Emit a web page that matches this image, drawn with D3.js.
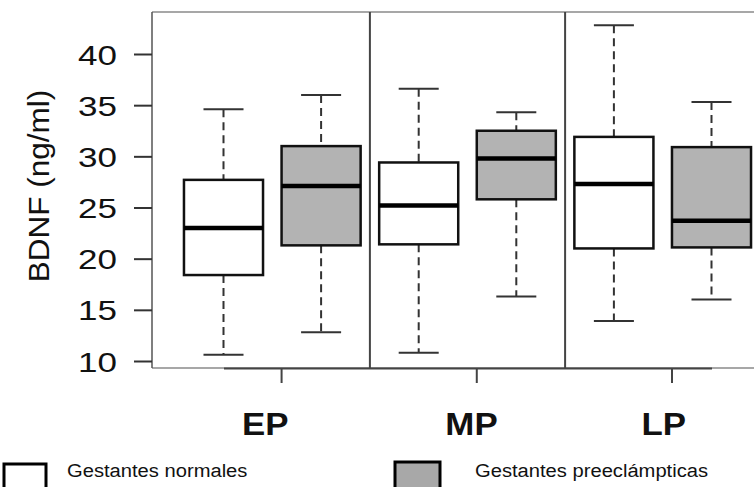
<!DOCTYPE html>
<html>
<head>
<meta charset="utf-8">
<script src="https://cdn.jsdelivr.net/npm/d3@7"></script>
<style>
	body { margin: 0; background: #fff; }
	text { font-family: "Liberation Sans", Arial, sans-serif; fill: #111; }
</style>
</head>
<body>
<script>
// categories
var groups = ["EP", "MP", "LP"];
var series = ["Gestantes normales", "Gestantes preeclámpticas"];

// box stats, order: EP normal, EP pre, MP normal, MP pre, LP normal, LP pre
var lowerWhisker = [10.6, 12.8, 10.8, 16.3, 13.9, 16.0];
var q1 = [18.4, 21.3, 21.4, 25.8, 21.0, 21.1];
var median = [23.0, 27.1, 25.2, 29.8, 27.3, 23.7];
var q3 = [27.7, 31.0, 29.4, 32.5, 31.9, 30.9];
var upperWhisker = [34.6, 36.0, 36.6, 34.3, 42.8, 35.3];

var yTicks = [10, 15, 20, 25, 30, 35, 40];

window.onload = function(){
	var w = 754, h = 487;
	var fills = ["#ffffff", "#b3b3b3"];

	var svg = d3.select("body")
		.append("svg")
		.attr("width", w)
		.attr("height", h)
		.attr("class", "container");

	var boxes = q1.map(function(d, i){
		return {
			pos: i + 1,
			s: i % 2,
			lo: lowerWhisker[i],
			q1: q1[i],
			med: median[i],
			q3: q3[i],
			hi: upperWhisker[i]
		};
	});

	var x = d3.scaleLinear()
		.domain([1, 6])
		.range([223.5, 711.5]);

	var y = d3.scaleLinear()
		.domain([10, 40])
		.range([361, 54]);

	var left = 152, top = 12, bottom = 368;
	var boxW = x(1.81) - x(1);
	var capW = x(1.41) - x(1);

	//frame
	svg.append("line")
		.attr("x1", left).attr("x2", w)
		.attr("y1", top).attr("y2", top)
		.style("stroke", "#8a8a8a").style("stroke-width", 1.5);
	svg.append("line")
		.attr("x1", left).attr("x2", w)
		.attr("y1", bottom).attr("y2", bottom)
		.style("stroke", "#8a8a8a").style("stroke-width", 1.5);
	svg.append("line")
		.attr("x1", left).attr("x2", left)
		.attr("y1", top).attr("y2", bottom)
		.style("stroke", "#555").style("stroke-width", 1.5);

	//panel separators, between the pairs
	[2.5, 4.5].forEach(function(v){
		svg.append("line")
			.attr("class", "separator")
			.attr("x1", x(v)).attr("x2", x(v))
			.attr("y1", top).attr("y2", bottom)
			.style("stroke", "#444").style("stroke-width", 2);
	});

	//y axis
	var yAxis = d3.axisLeft(y)
		.tickValues(yTicks)
		.tickSize(18)
		.tickPadding(17);

	var yg = svg.append("g")
		.attr("class", "axis")
		.attr("transform", "translate(" + left + ",0)")
		.call(yAxis);
	yg.select(".domain").remove();
	yg.selectAll(".tick line").style("stroke", "#333").style("stroke-width", 2);
	yg.selectAll(".tick text")
		.style("font-family", "Liberation Sans, Arial, sans-serif")
		.style("font-size", "28px")
		.attr("dy", "0.36em")
		.style("fill", "#111");

	//x axis (group ticks)
	var xAxis = d3.axisBottom(x)
		.tickValues(groups.map(function(d, i){ return i * 2 + 1.59; }))
		.tickFormat("")
		.tickSizeInner(15)
		.tickSizeOuter(0);

	var xg = svg.append("g")
		.attr("class", "axis")
		.attr("transform", "translate(0," + bottom + ")")
		.call(xAxis);
	xg.select(".domain").style("stroke", "#444").style("stroke-width", 2);
	xg.selectAll(".tick line").style("stroke", "#444").style("stroke-width", 2);

	var groupLabels = svg.selectAll(".groupLabel")
		.data(groups)
		.enter()
		.append("text")
		.attr("class", "groupLabel")
		.attr("text-anchor", "middle")
		.attr("x", function(d, i){
			return x(i * 2 + 1.5) + [-7, 4, 1][i];
		})
		.attr("y", 435)
		.style("font-size", "32px")
		.style("font-weight", "bold")
		.text(function(d){ return d; });

	//y title
	var yTitle = svg.append("text")
		.attr("class", "ytitle")
		.attr("text-anchor", "middle")
		.attr("transform", "translate(49,186) rotate(-90)")
		.style("font-size", "30px")
		.text("BDNF (ng/ml)");

	//whiskers
	var whisk = svg.selectAll(".whisker")
		.data(boxes)
		.enter()
		.append("g")
		.attr("class", "whisker");

	whisk.append("line")
		.attr("x1", function(d){ return x(d.pos); })
		.attr("x2", function(d){ return x(d.pos); })
		.attr("y1", function(d){ return y(d.hi); })
		.attr("y2", function(d){ return y(d.q3); })
		.style("stroke", "#333").style("stroke-width", 2)
		.style("stroke-dasharray", "8,5");
	whisk.append("line")
		.attr("x1", function(d){ return x(d.pos); })
		.attr("x2", function(d){ return x(d.pos); })
		.attr("y1", function(d){ return y(d.q1); })
		.attr("y2", function(d){ return y(d.lo); })
		.style("stroke", "#333").style("stroke-width", 2)
		.style("stroke-dasharray", "8,5");
	whisk.append("line")
		.attr("x1", function(d){ return x(d.pos) - capW / 2; })
		.attr("x2", function(d){ return x(d.pos) + capW / 2; })
		.attr("y1", function(d){ return y(d.hi); })
		.attr("y2", function(d){ return y(d.hi); })
		.style("stroke", "#333").style("stroke-width", 2);
	whisk.append("line")
		.attr("x1", function(d){ return x(d.pos) - capW / 2; })
		.attr("x2", function(d){ return x(d.pos) + capW / 2; })
		.attr("y1", function(d){ return y(d.lo); })
		.attr("y2", function(d){ return y(d.lo); })
		.style("stroke", "#333").style("stroke-width", 2);

	//boxes
	svg.selectAll(".box")
		.data(boxes)
		.enter()
		.append("rect")
		.attr("class", "box")
		.attr("x", function(d){ return x(d.pos) - boxW / 2; })
		.attr("y", function(d){ return y(d.q3); })
		.attr("width", boxW)
		.attr("height", function(d){ return y(d.q1) - y(d.q3); })
		.style("fill", function(d){ return fills[d.s]; })
		.style("stroke", "#111")
		.style("stroke-width", 2.5);

	svg.selectAll(".median")
		.data(boxes)
		.enter()
		.append("line")
		.attr("class", "median")
		.attr("x1", function(d){ return x(d.pos) - boxW / 2; })
		.attr("x2", function(d){ return x(d.pos) + boxW / 2; })
		.attr("y1", function(d){ return y(d.med); })
		.attr("y2", function(d){ return y(d.med); })
		.style("stroke", "#000")
		.style("stroke-width", 4.5);

	//legend
	var legendX = [[4, 67, 464], [395, 475, 462]];
	var legend = svg.selectAll(".legend")
		.data(series)
		.enter()
		.append("g")
		.attr("class", "legend");
	legend.append("rect")
		.attr("x", function(d, i){ return legendX[i][0]; })
		.attr("y", function(d, i){ return legendX[i][2]; })
		.attr("width", function(d, i){ return i ? 45 : 42; })
		.attr("height", 30)
		.style("fill", function(d, i){ return i ? "#a8a8a8" : "#fff"; })
		.style("stroke", "#000")
		.style("stroke-width", 3);
	var legendText = legend.append("text")
		.attr("class", "legendText")
		.attr("x", function(d, i){ return legendX[i][1]; })
		.attr("y", 477)
		.style("font-size", "18px")
		.text(function(d){ return d; });

	//horizontal stretch to match the source
	function stretch(sel, k){
		sel.each(function(){
			var len = this.getComputedTextLength();
			d3.select(this)
				.attr("textLength", len * k)
				.attr("lengthAdjust", "spacingAndGlyphs");
		});
	}
	stretch(yg.selectAll(".tick text"), 1.25);
	stretch(groupLabels, 1.09);
	stretch(legendText, 1.12);
	stretch(yTitle, 1.05);
};
</script>
</body>
</html>
